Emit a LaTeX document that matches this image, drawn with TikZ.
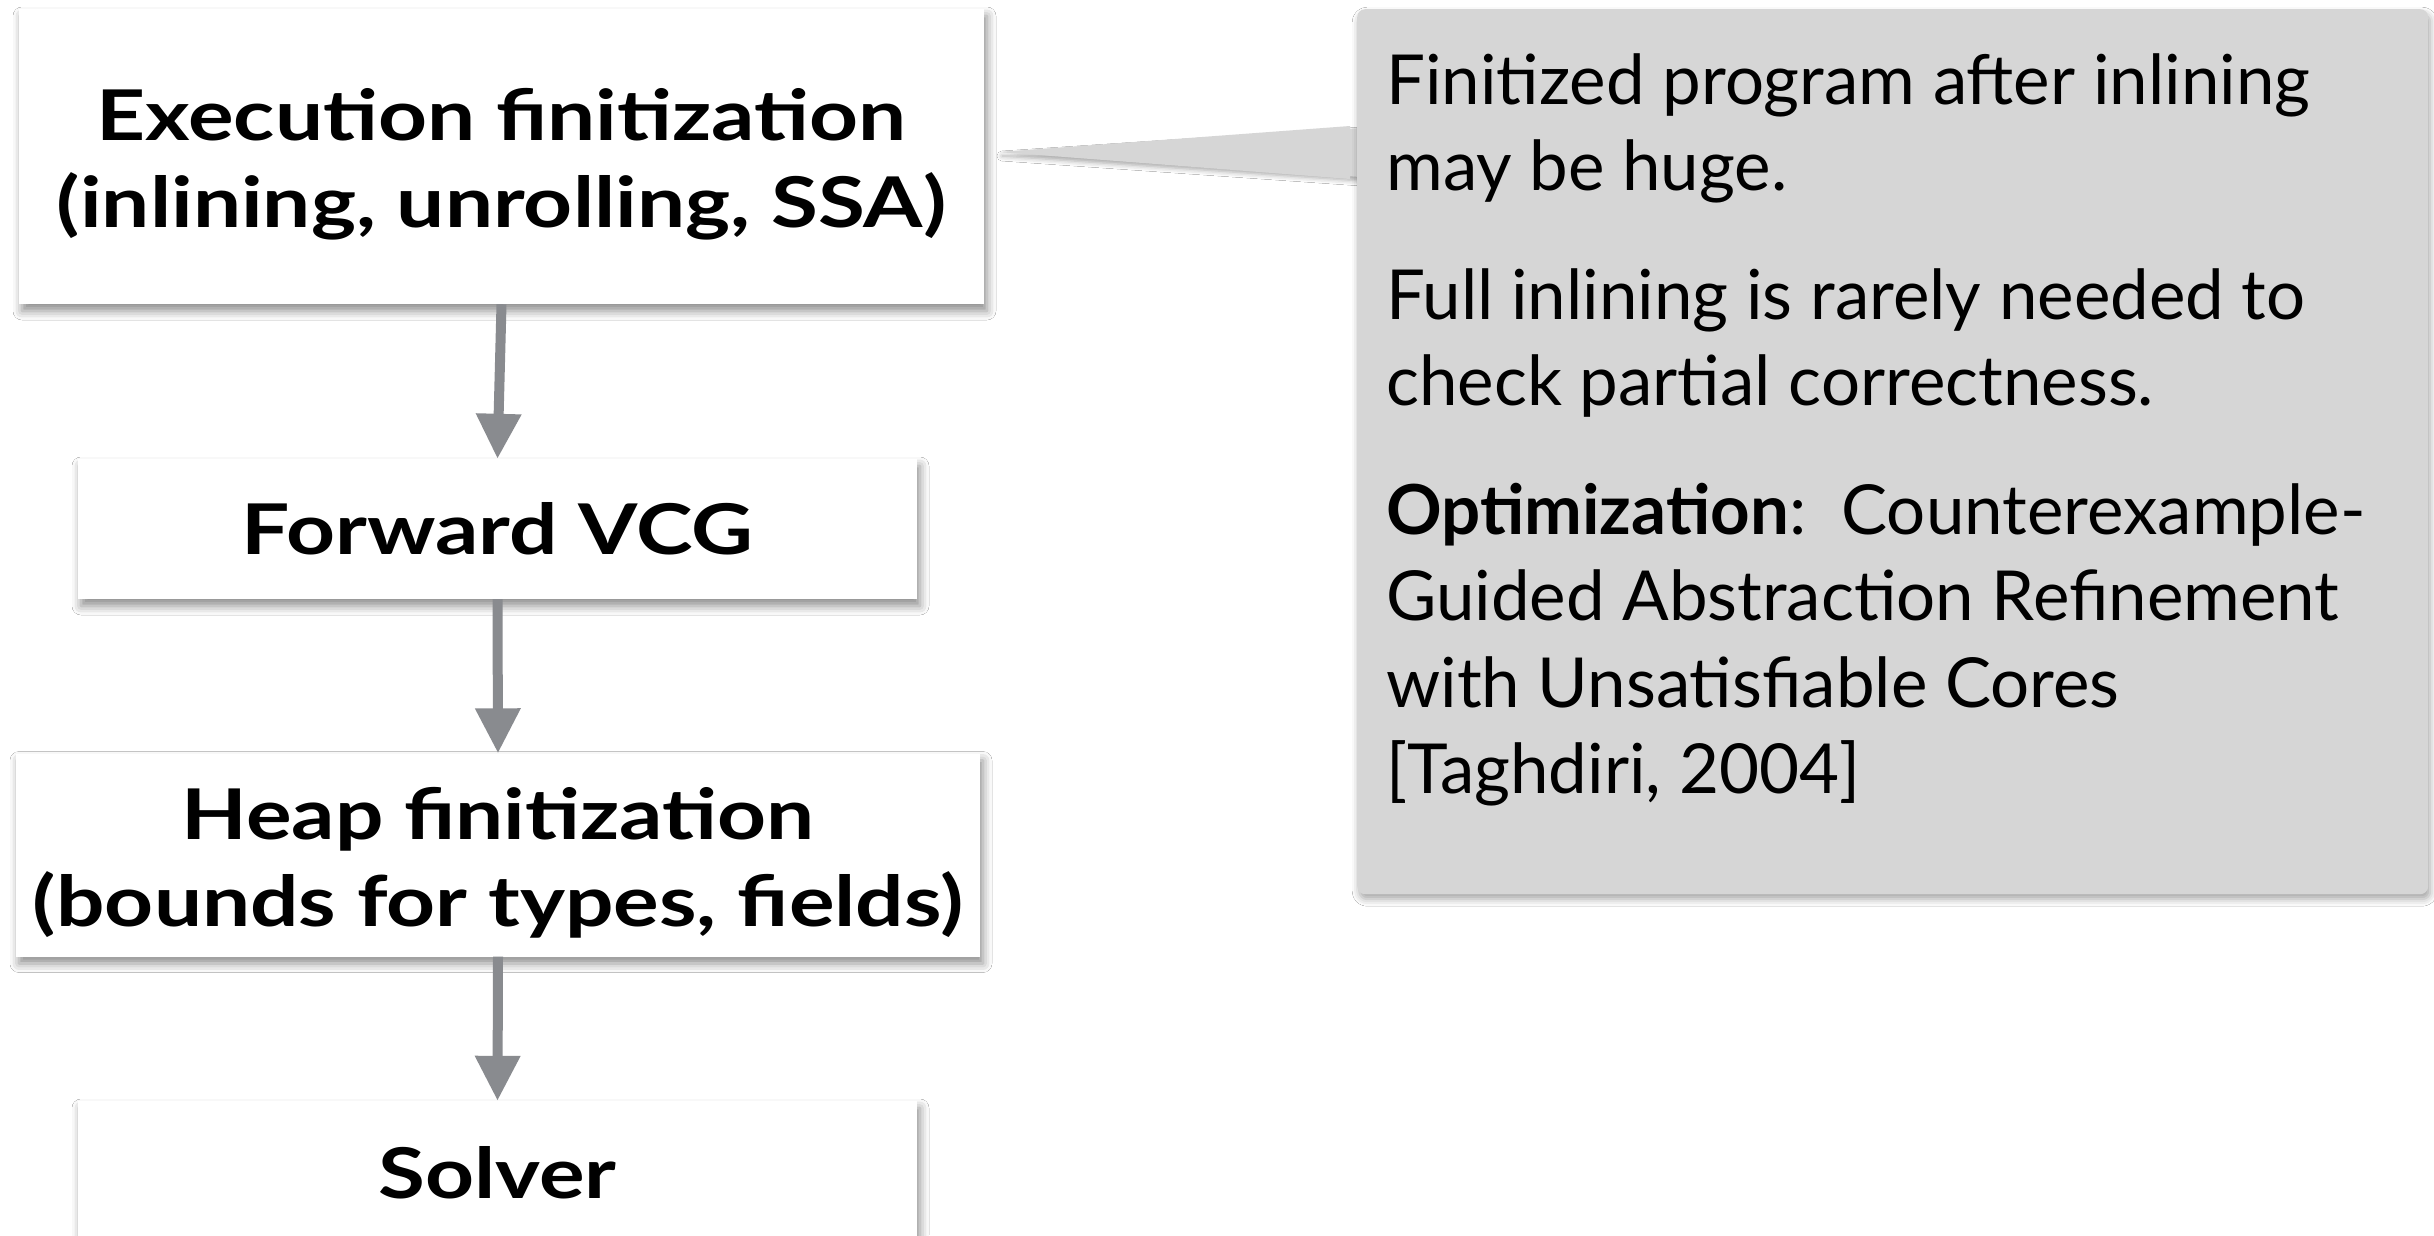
\documentclass[tikz,border=0pt]{standalone}
\usepackage{fontspec}
\setmainfont{Lato}
\newfontfamily\stagefont{Lato}[FakeStretch=1.22]
\usetikzlibrary{arrows.meta,shadows.blur}
\definecolor{arrowgray}{RGB}{137,139,143}
\definecolor{calloutgray}{RGB}{214,214,214}
\newcommand{\toppad}{\rule{0pt}{68pt}}
\begin{document}
\begin{tikzpicture}[x=1pt,y=-1pt,
  stage/.style={fill=white, draw=none, inner sep=0pt, align=center,
    font=\stagefont\fontsize{70}{87}\selectfont\bfseries,
    blur shadow={shadow xshift=3pt,shadow yshift=-7pt,shadow blur radius=9pt,shadow opacity=45}},
  flow/.style={draw=arrowgray, line width=10pt, -{Triangle[length=45pt,width=43pt,fill=arrowgray]}},
  notebox/.style={fill=calloutgray, draw=none, rounded corners=8pt, inner sep=0pt,
    blur shadow={shadow xshift=2pt,shadow yshift=-5pt,shadow blur radius=7pt,shadow opacity=35}},
  notetext/.style={inner sep=0pt, align=left, font=\fontsize{69}{86.5}\selectfont},
]
\useasboundingbox (0,0) rectangle (2434,1235);
\fill[white] (0,0) rectangle (2434,1235);

\node[stage, minimum width=965pt, minimum height=295pt] (exec) at (501.5,156.5)
  {\toppad Execution finitization\\(inlining, unrolling, SSA)};
\node[stage, minimum width=839pt, minimum height=140pt] (vcg) at (497.5,529)
  {Forward VCG};
\node[stage, minimum width=964pt, minimum height=203pt] (heap) at (498,855)
  {\toppad Heap finitization\\(bounds for types, fields)};
\node[stage, minimum width=839pt, minimum height=144pt] (solver) at (497.5,1173)
  {Solver};

\draw[flow] (exec.south) -- (vcg.north);
\draw[flow] (vcg.south) -- (heap.north);
\draw[flow] (heap.south) -- (solver.north);

\coordinate (tip) at (1000,152);
\fill[calloutgray, blur shadow={shadow xshift=2pt,shadow yshift=-4pt,shadow blur radius=5pt,shadow opacity=35}]
  (1360,128) -- (tip) -- (1360,177) -- cycle;
\node[notebox, minimum width=1071pt, minimum height=885pt, anchor=north west] (note) at (1357,9) {};
\fill[calloutgray] (1350,126) -- (tip) -- (1350,179) -- cycle;

\node[notetext, anchor=north west] (notetxt) at (1386,53)
  {Finitized program after inlining\\
   may be huge.\\[42pt]
   Full inlining is rarely needed to\\
   check partial correctness.\\[42pt]
   \textbf{Optimization}:\ \ Counterexample-\\
   Guided Abstraction Refinement\\
   with Unsatisfiable Cores\\
   {[}Taghdiri, 2004{]}};
\end{tikzpicture}
\end{document}
